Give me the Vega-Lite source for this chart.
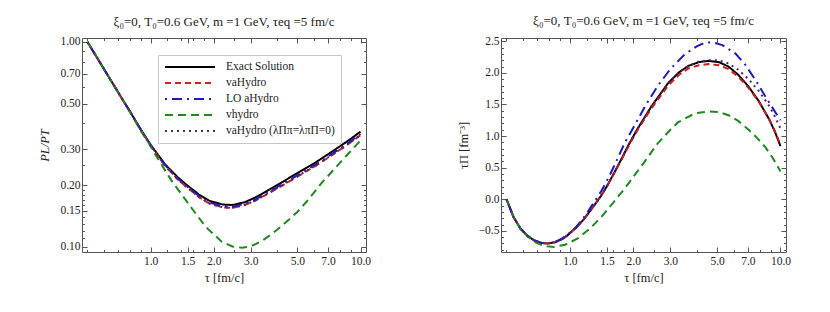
{
  "$schema": "https://vega.github.io/schema/vega-lite/v6.json",
  "padding": {"left": 38, "top": 14, "right": 5, "bottom": 5},
  "spacing": 84,
  "config": {
    "view": {"stroke": "#555", "strokeWidth": 1},
    "axis": {"labelFont": "Liberation Serif", "labelFontSize": 11.5, "labelColor": "#222", "titleFont": "Liberation Serif", "titleFontSize": 12.5, "titleFontWeight": "normal", "titleColor": "#222", "domain": false, "grid": false, "tickColor": "#555", "labelOverlap": false, "labelFlush": false},
    "title": {"font": "Liberation Serif", "fontSize": 13, "fontWeight": "normal", "color": "#222", "offset": 7}
  },
  "datasets": {
    "left": [
      {"m": "Exact Solution", "t": 0.5, "v": 1.0}, {"m": "Exact Solution", "t": 0.55, "v": 0.852}, {"m": "Exact Solution", "t": 0.6, "v": 0.736}, {"m": "Exact Solution", "t": 0.7, "v": 0.568}, {"m": "Exact Solution", "t": 0.8, "v": 0.455}, {"m": "Exact Solution", "t": 0.9, "v": 0.372}, {"m": "Exact Solution", "t": 1.0, "v": 0.315}, {"m": "Exact Solution", "t": 1.17, "v": 0.253}, {"m": "Exact Solution", "t": 1.35, "v": 0.218}, {"m": "Exact Solution", "t": 1.5, "v": 0.199}, {"m": "Exact Solution", "t": 1.7, "v": 0.18}, {"m": "Exact Solution", "t": 1.9, "v": 0.168}, {"m": "Exact Solution", "t": 2.2, "v": 0.161}, {"m": "Exact Solution", "t": 2.45, "v": 0.16}, {"m": "Exact Solution", "t": 2.8, "v": 0.165}, {"m": "Exact Solution", "t": 3.15, "v": 0.174}, {"m": "Exact Solution", "t": 3.6, "v": 0.188}, {"m": "Exact Solution", "t": 4.2, "v": 0.206}, {"m": "Exact Solution", "t": 5.0, "v": 0.229}, {"m": "Exact Solution", "t": 6.1, "v": 0.258}, {"m": "Exact Solution", "t": 7.0, "v": 0.283}, {"m": "Exact Solution", "t": 8.0, "v": 0.31}, {"m": "Exact Solution", "t": 9.0, "v": 0.337}, {"m": "Exact Solution", "t": 10.0, "v": 0.365},
      {"m": "vaHydro", "t": 0.5, "v": 1.0}, {"m": "vaHydro", "t": 0.55, "v": 0.852}, {"m": "vaHydro", "t": 0.6, "v": 0.736}, {"m": "vaHydro", "t": 0.7, "v": 0.568}, {"m": "vaHydro", "t": 0.8, "v": 0.455}, {"m": "vaHydro", "t": 0.9, "v": 0.371}, {"m": "vaHydro", "t": 1.0, "v": 0.312}, {"m": "vaHydro", "t": 1.17, "v": 0.249}, {"m": "vaHydro", "t": 1.35, "v": 0.213}, {"m": "vaHydro", "t": 1.5, "v": 0.194}, {"m": "vaHydro", "t": 1.7, "v": 0.175}, {"m": "vaHydro", "t": 1.9, "v": 0.163}, {"m": "vaHydro", "t": 2.2, "v": 0.156}, {"m": "vaHydro", "t": 2.45, "v": 0.155}, {"m": "vaHydro", "t": 2.8, "v": 0.16}, {"m": "vaHydro", "t": 3.15, "v": 0.168}, {"m": "vaHydro", "t": 3.6, "v": 0.181}, {"m": "vaHydro", "t": 4.2, "v": 0.198}, {"m": "vaHydro", "t": 5.0, "v": 0.22}, {"m": "vaHydro", "t": 6.1, "v": 0.248}, {"m": "vaHydro", "t": 7.0, "v": 0.272}, {"m": "vaHydro", "t": 8.0, "v": 0.298}, {"m": "vaHydro", "t": 9.0, "v": 0.324}, {"m": "vaHydro", "t": 10.0, "v": 0.351},
      {"m": "LO aHydro", "t": 0.5, "v": 1.0}, {"m": "LO aHydro", "t": 0.55, "v": 0.852}, {"m": "LO aHydro", "t": 0.6, "v": 0.736}, {"m": "LO aHydro", "t": 0.7, "v": 0.568}, {"m": "LO aHydro", "t": 0.8, "v": 0.455}, {"m": "LO aHydro", "t": 0.9, "v": 0.372}, {"m": "LO aHydro", "t": 1.0, "v": 0.314}, {"m": "LO aHydro", "t": 1.17, "v": 0.251}, {"m": "LO aHydro", "t": 1.35, "v": 0.215}, {"m": "LO aHydro", "t": 1.5, "v": 0.196}, {"m": "LO aHydro", "t": 1.7, "v": 0.177}, {"m": "LO aHydro", "t": 1.9, "v": 0.165}, {"m": "LO aHydro", "t": 2.2, "v": 0.158}, {"m": "LO aHydro", "t": 2.45, "v": 0.157}, {"m": "LO aHydro", "t": 2.8, "v": 0.162}, {"m": "LO aHydro", "t": 3.15, "v": 0.17}, {"m": "LO aHydro", "t": 3.6, "v": 0.184}, {"m": "LO aHydro", "t": 4.2, "v": 0.201}, {"m": "LO aHydro", "t": 5.0, "v": 0.223}, {"m": "LO aHydro", "t": 6.1, "v": 0.252}, {"m": "LO aHydro", "t": 7.0, "v": 0.276}, {"m": "LO aHydro", "t": 8.0, "v": 0.302}, {"m": "LO aHydro", "t": 9.0, "v": 0.329}, {"m": "LO aHydro", "t": 10.0, "v": 0.356},
      {"m": "vhydro", "t": 0.5, "v": 1.0}, {"m": "vhydro", "t": 0.55, "v": 0.852}, {"m": "vhydro", "t": 0.6, "v": 0.736}, {"m": "vhydro", "t": 0.7, "v": 0.566}, {"m": "vhydro", "t": 0.8, "v": 0.452}, {"m": "vhydro", "t": 0.9, "v": 0.367}, {"m": "vhydro", "t": 0.975, "v": 0.323}, {"m": "vhydro", "t": 1.1, "v": 0.262}, {"m": "vhydro", "t": 1.26, "v": 0.21}, {"m": "vhydro", "t": 1.51, "v": 0.163}, {"m": "vhydro", "t": 1.82, "v": 0.126}, {"m": "vhydro", "t": 2.18, "v": 0.106}, {"m": "vhydro", "t": 2.45, "v": 0.1005}, {"m": "vhydro", "t": 2.72, "v": 0.099}, {"m": "vhydro", "t": 3.0, "v": 0.1005}, {"m": "vhydro", "t": 3.39, "v": 0.107}, {"m": "vhydro", "t": 3.8, "v": 0.116}, {"m": "vhydro", "t": 4.23, "v": 0.127}, {"m": "vhydro", "t": 5.0, "v": 0.148}, {"m": "vhydro", "t": 5.67, "v": 0.171}, {"m": "vhydro", "t": 6.5, "v": 0.204}, {"m": "vhydro", "t": 7.59, "v": 0.243}, {"m": "vhydro", "t": 8.6, "v": 0.28}, {"m": "vhydro", "t": 10.0, "v": 0.33},
      {"m": "vaHydro (λΠπ=λπΠ=0)", "t": 0.5, "v": 1.0}, {"m": "vaHydro (λΠπ=λπΠ=0)", "t": 0.55, "v": 0.852}, {"m": "vaHydro (λΠπ=λπΠ=0)", "t": 0.6, "v": 0.736}, {"m": "vaHydro (λΠπ=λπΠ=0)", "t": 0.7, "v": 0.568}, {"m": "vaHydro (λΠπ=λπΠ=0)", "t": 0.8, "v": 0.455}, {"m": "vaHydro (λΠπ=λπΠ=0)", "t": 0.9, "v": 0.371}, {"m": "vaHydro (λΠπ=λπΠ=0)", "t": 1.0, "v": 0.313}, {"m": "vaHydro (λΠπ=λπΠ=0)", "t": 1.17, "v": 0.249}, {"m": "vaHydro (λΠπ=λπΠ=0)", "t": 1.35, "v": 0.213}, {"m": "vaHydro (λΠπ=λπΠ=0)", "t": 1.5, "v": 0.194}, {"m": "vaHydro (λΠπ=λπΠ=0)", "t": 1.7, "v": 0.175}, {"m": "vaHydro (λΠπ=λπΠ=0)", "t": 1.9, "v": 0.163}, {"m": "vaHydro (λΠπ=λπΠ=0)", "t": 2.2, "v": 0.156}, {"m": "vaHydro (λΠπ=λπΠ=0)", "t": 2.45, "v": 0.155}, {"m": "vaHydro (λΠπ=λπΠ=0)", "t": 2.8, "v": 0.16}, {"m": "vaHydro (λΠπ=λπΠ=0)", "t": 3.15, "v": 0.168}, {"m": "vaHydro (λΠπ=λπΠ=0)", "t": 3.6, "v": 0.182}, {"m": "vaHydro (λΠπ=λπΠ=0)", "t": 4.2, "v": 0.199}, {"m": "vaHydro (λΠπ=λπΠ=0)", "t": 5.0, "v": 0.221}, {"m": "vaHydro (λΠπ=λπΠ=0)", "t": 6.1, "v": 0.249}, {"m": "vaHydro (λΠπ=λπΠ=0)", "t": 7.0, "v": 0.273}, {"m": "vaHydro (λΠπ=λπΠ=0)", "t": 8.0, "v": 0.299}, {"m": "vaHydro (λΠπ=λπΠ=0)", "t": 9.0, "v": 0.325}, {"m": "vaHydro (λΠπ=λπΠ=0)", "t": 10.0, "v": 0.352}
    ],
    "right": [
      {"m": "Exact Solution", "t": 0.5, "v": 0}, {"m": "Exact Solution", "t": 0.54, "v": -0.28}, {"m": "Exact Solution", "t": 0.583, "v": -0.466}, {"m": "Exact Solution", "t": 0.63, "v": -0.58}, {"m": "Exact Solution", "t": 0.675, "v": -0.65}, {"m": "Exact Solution", "t": 0.73, "v": -0.69}, {"m": "Exact Solution", "t": 0.782, "v": -0.7}, {"m": "Exact Solution", "t": 0.85, "v": -0.68}, {"m": "Exact Solution", "t": 0.92, "v": -0.63}, {"m": "Exact Solution", "t": 0.975, "v": -0.57}, {"m": "Exact Solution", "t": 1.07, "v": -0.45}, {"m": "Exact Solution", "t": 1.17, "v": -0.31}, {"m": "Exact Solution", "t": 1.29, "v": -0.12}, {"m": "Exact Solution", "t": 1.41, "v": 0.06}, {"m": "Exact Solution", "t": 1.52, "v": 0.24}, {"m": "Exact Solution", "t": 1.63, "v": 0.43}, {"m": "Exact Solution", "t": 1.76, "v": 0.64}, {"m": "Exact Solution", "t": 1.9, "v": 0.86}, {"m": "Exact Solution", "t": 2.1, "v": 1.12}, {"m": "Exact Solution", "t": 2.44, "v": 1.47}, {"m": "Exact Solution", "t": 2.93, "v": 1.84}, {"m": "Exact Solution", "t": 3.3, "v": 2.01}, {"m": "Exact Solution", "t": 3.65, "v": 2.11}, {"m": "Exact Solution", "t": 4.1, "v": 2.17}, {"m": "Exact Solution", "t": 4.55, "v": 2.19}, {"m": "Exact Solution", "t": 5.1, "v": 2.17}, {"m": "Exact Solution", "t": 5.66, "v": 2.1}, {"m": "Exact Solution", "t": 6.3, "v": 1.97}, {"m": "Exact Solution", "t": 7.06, "v": 1.78}, {"m": "Exact Solution", "t": 7.9, "v": 1.55}, {"m": "Exact Solution", "t": 8.82, "v": 1.27}, {"m": "Exact Solution", "t": 9.4, "v": 1.07}, {"m": "Exact Solution", "t": 10.0, "v": 0.84},
      {"m": "vaHydro", "t": 0.5, "v": 0}, {"m": "vaHydro", "t": 0.54, "v": -0.28}, {"m": "vaHydro", "t": 0.583, "v": -0.466}, {"m": "vaHydro", "t": 0.63, "v": -0.58}, {"m": "vaHydro", "t": 0.675, "v": -0.65}, {"m": "vaHydro", "t": 0.73, "v": -0.69}, {"m": "vaHydro", "t": 0.782, "v": -0.7}, {"m": "vaHydro", "t": 0.85, "v": -0.68}, {"m": "vaHydro", "t": 0.92, "v": -0.63}, {"m": "vaHydro", "t": 0.975, "v": -0.57}, {"m": "vaHydro", "t": 1.07, "v": -0.45}, {"m": "vaHydro", "t": 1.17, "v": -0.31}, {"m": "vaHydro", "t": 1.29, "v": -0.12}, {"m": "vaHydro", "t": 1.41, "v": 0.06}, {"m": "vaHydro", "t": 1.52, "v": 0.24}, {"m": "vaHydro", "t": 1.63, "v": 0.42}, {"m": "vaHydro", "t": 1.76, "v": 0.63}, {"m": "vaHydro", "t": 1.9, "v": 0.84}, {"m": "vaHydro", "t": 2.1, "v": 1.1}, {"m": "vaHydro", "t": 2.44, "v": 1.44}, {"m": "vaHydro", "t": 2.93, "v": 1.8}, {"m": "vaHydro", "t": 3.3, "v": 1.97}, {"m": "vaHydro", "t": 3.65, "v": 2.07}, {"m": "vaHydro", "t": 4.1, "v": 2.12}, {"m": "vaHydro", "t": 4.55, "v": 2.14}, {"m": "vaHydro", "t": 5.1, "v": 2.12}, {"m": "vaHydro", "t": 5.66, "v": 2.06}, {"m": "vaHydro", "t": 6.3, "v": 1.94}, {"m": "vaHydro", "t": 7.06, "v": 1.76}, {"m": "vaHydro", "t": 7.9, "v": 1.54}, {"m": "vaHydro", "t": 8.82, "v": 1.27}, {"m": "vaHydro", "t": 9.4, "v": 1.08}, {"m": "vaHydro", "t": 10.0, "v": 0.86},
      {"m": "LO aHydro", "t": 0.5, "v": 0}, {"m": "LO aHydro", "t": 0.54, "v": -0.28}, {"m": "LO aHydro", "t": 0.583, "v": -0.466}, {"m": "LO aHydro", "t": 0.63, "v": -0.58}, {"m": "LO aHydro", "t": 0.675, "v": -0.65}, {"m": "LO aHydro", "t": 0.73, "v": -0.69}, {"m": "LO aHydro", "t": 0.782, "v": -0.7}, {"m": "LO aHydro", "t": 0.85, "v": -0.68}, {"m": "LO aHydro", "t": 0.92, "v": -0.62}, {"m": "LO aHydro", "t": 0.975, "v": -0.56}, {"m": "LO aHydro", "t": 1.07, "v": -0.44}, {"m": "LO aHydro", "t": 1.17, "v": -0.28}, {"m": "LO aHydro", "t": 1.29, "v": -0.07}, {"m": "LO aHydro", "t": 1.41, "v": 0.13}, {"m": "LO aHydro", "t": 1.52, "v": 0.33}, {"m": "LO aHydro", "t": 1.63, "v": 0.54}, {"m": "LO aHydro", "t": 1.82, "v": 0.89}, {"m": "LO aHydro", "t": 2.03, "v": 1.17}, {"m": "LO aHydro", "t": 2.3, "v": 1.5}, {"m": "LO aHydro", "t": 2.62, "v": 1.8}, {"m": "LO aHydro", "t": 3.0, "v": 2.06}, {"m": "LO aHydro", "t": 3.5, "v": 2.29}, {"m": "LO aHydro", "t": 4.0, "v": 2.42}, {"m": "LO aHydro", "t": 4.39, "v": 2.48}, {"m": "LO aHydro", "t": 4.8, "v": 2.48}, {"m": "LO aHydro", "t": 5.3, "v": 2.44}, {"m": "LO aHydro", "t": 6.1, "v": 2.31}, {"m": "LO aHydro", "t": 6.8, "v": 2.13}, {"m": "LO aHydro", "t": 7.6, "v": 1.89}, {"m": "LO aHydro", "t": 8.5, "v": 1.62}, {"m": "LO aHydro", "t": 9.48, "v": 1.37}, {"m": "LO aHydro", "t": 10.0, "v": 1.25},
      {"m": "vhydro", "t": 0.5, "v": 0}, {"m": "vhydro", "t": 0.54, "v": -0.28}, {"m": "vhydro", "t": 0.583, "v": -0.47}, {"m": "vhydro", "t": 0.63, "v": -0.59}, {"m": "vhydro", "t": 0.675, "v": -0.67}, {"m": "vhydro", "t": 0.73, "v": -0.72}, {"m": "vhydro", "t": 0.78, "v": -0.745}, {"m": "vhydro", "t": 0.84, "v": -0.755}, {"m": "vhydro", "t": 0.95, "v": -0.72}, {"m": "vhydro", "t": 1.09, "v": -0.62}, {"m": "vhydro", "t": 1.25, "v": -0.46}, {"m": "vhydro", "t": 1.41, "v": -0.28}, {"m": "vhydro", "t": 1.6, "v": -0.06}, {"m": "vhydro", "t": 1.82, "v": 0.17}, {"m": "vhydro", "t": 2.05, "v": 0.4}, {"m": "vhydro", "t": 2.26, "v": 0.59}, {"m": "vhydro", "t": 2.62, "v": 0.89}, {"m": "vhydro", "t": 3.0, "v": 1.1}, {"m": "vhydro", "t": 3.27, "v": 1.22}, {"m": "vhydro", "t": 3.93, "v": 1.36}, {"m": "vhydro", "t": 4.55, "v": 1.39}, {"m": "vhydro", "t": 5.1, "v": 1.38}, {"m": "vhydro", "t": 5.66, "v": 1.33}, {"m": "vhydro", "t": 6.3, "v": 1.24}, {"m": "vhydro", "t": 7.06, "v": 1.1}, {"m": "vhydro", "t": 7.8, "v": 0.96}, {"m": "vhydro", "t": 8.49, "v": 0.82}, {"m": "vhydro", "t": 9.2, "v": 0.65}, {"m": "vhydro", "t": 10.0, "v": 0.44},
      {"m": "vaHydro (λΠπ=λπΠ=0)", "t": 0.5, "v": 0}, {"m": "vaHydro (λΠπ=λπΠ=0)", "t": 0.54, "v": -0.28}, {"m": "vaHydro (λΠπ=λπΠ=0)", "t": 0.583, "v": -0.466}, {"m": "vaHydro (λΠπ=λπΠ=0)", "t": 0.63, "v": -0.58}, {"m": "vaHydro (λΠπ=λπΠ=0)", "t": 0.675, "v": -0.65}, {"m": "vaHydro (λΠπ=λπΠ=0)", "t": 0.73, "v": -0.69}, {"m": "vaHydro (λΠπ=λπΠ=0)", "t": 0.782, "v": -0.7}, {"m": "vaHydro (λΠπ=λπΠ=0)", "t": 0.85, "v": -0.68}, {"m": "vaHydro (λΠπ=λπΠ=0)", "t": 0.92, "v": -0.63}, {"m": "vaHydro (λΠπ=λπΠ=0)", "t": 0.975, "v": -0.57}, {"m": "vaHydro (λΠπ=λπΠ=0)", "t": 1.07, "v": -0.45}, {"m": "vaHydro (λΠπ=λπΠ=0)", "t": 1.17, "v": -0.31}, {"m": "vaHydro (λΠπ=λπΠ=0)", "t": 1.29, "v": -0.12}, {"m": "vaHydro (λΠπ=λπΠ=0)", "t": 1.41, "v": 0.06}, {"m": "vaHydro (λΠπ=λπΠ=0)", "t": 1.52, "v": 0.24}, {"m": "vaHydro (λΠπ=λπΠ=0)", "t": 1.63, "v": 0.43}, {"m": "vaHydro (λΠπ=λπΠ=0)", "t": 1.76, "v": 0.64}, {"m": "vaHydro (λΠπ=λπΠ=0)", "t": 1.9, "v": 0.86}, {"m": "vaHydro (λΠπ=λπΠ=0)", "t": 2.1, "v": 1.12}, {"m": "vaHydro (λΠπ=λπΠ=0)", "t": 2.44, "v": 1.47}, {"m": "vaHydro (λΠπ=λπΠ=0)", "t": 2.93, "v": 1.84}, {"m": "vaHydro (λΠπ=λπΠ=0)", "t": 3.3, "v": 2.01}, {"m": "vaHydro (λΠπ=λπΠ=0)", "t": 3.65, "v": 2.11}, {"m": "vaHydro (λΠπ=λπΠ=0)", "t": 4.1, "v": 2.18}, {"m": "vaHydro (λΠπ=λπΠ=0)", "t": 4.55, "v": 2.2}, {"m": "vaHydro (λΠπ=λπΠ=0)", "t": 5.1, "v": 2.2}, {"m": "vaHydro (λΠπ=λπΠ=0)", "t": 5.66, "v": 2.15}, {"m": "vaHydro (λΠπ=λπΠ=0)", "t": 6.3, "v": 2.05}, {"m": "vaHydro (λΠπ=λπΠ=0)", "t": 7.06, "v": 1.9}, {"m": "vaHydro (λΠπ=λπΠ=0)", "t": 7.9, "v": 1.71}, {"m": "vaHydro (λΠπ=λπΠ=0)", "t": 8.82, "v": 1.48}, {"m": "vaHydro (λΠπ=λπΠ=0)", "t": 9.4, "v": 1.31}, {"m": "vaHydro (λΠπ=λπΠ=0)", "t": 10.0, "v": 1.12}
    ]
  },
  "hconcat": [
    {
      "width": 284, "height": 214,
      "title": "ξ₀=0, T₀=0.6 GeV, m =1 GeV, τeq =5 fm/c",
      "data": {"name": "left"},
      "resolve": {"axis": {"x": "independent", "y": "independent"}},
      "layer": [
        {
          "mark": {"type": "line", "strokeWidth": 2},
          "encoding": {
            "x": {"field": "t", "type": "quantitative", "scale": {"type": "log", "domain": [0.471, 10.62], "nice": false}, "axis": {"orient": "bottom", "values": [1, 1.5, 2, 3, 5, 7, 10], "format": ".1f", "title": "τ [fm/c]", "tickSize": -5, "labelPadding": 8, "titlePadding": 5}},
            "y": {"field": "v", "type": "quantitative", "scale": {"type": "log", "domain": [0.0944, 1.045], "nice": false}, "axis": {"orient": "left", "values": [0.1, 0.15, 0.2, 0.3, 0.5, 0.7, 1.0], "format": ".2f", "title": "PL/PT", "titleFontStyle": "italic", "tickSize": -5, "labelPadding": 7, "titlePadding": 8}},
            "color": {"field": "m", "type": "nominal", "sort": null,
              "scale": {"domain": ["Exact Solution", "vaHydro", "LO aHydro", "vhydro", "vaHydro (λΠπ=λπΠ=0)"], "range": ["#000000", "#c8201e", "#1a1ac0", "#1e8a1e", "#5a2268"]},
              "legend": {"orient": "none", "legendX": 76, "legendY": 17, "title": null, "symbolType": "M-5,0H5", "symbolSize": 100, "symbolStrokeWidth": 2, "symbolOffset": 20, "labelOffset": 30, "padding": 6, "rowPadding": 4, "strokeColor": "#c8c8c8", "fillColor": "#ffffff", "labelFont": "Liberation Serif", "labelFontSize": 11.5, "labelColor": "#222", "labelLimit": 200}},
            "strokeDash": {"field": "m", "type": "nominal", "sort": null,
              "scale": {"domain": ["Exact Solution", "vaHydro", "LO aHydro", "vhydro", "vaHydro (λΠπ=λπΠ=0)"], "range": [[1, 0], [6, 4], [2, 5, 10, 5], [8, 5], [2, 4]]}}
          }
        },
        {
          "mark": {"type": "point", "opacity": 0},
          "encoding": {
            "x": {"field": "t", "type": "quantitative", "scale": {"type": "log", "domain": [0.471, 10.62], "nice": false}, "axis": {"orient": "top", "values": [1, 1.5, 2, 3, 5, 7, 10], "labels": false, "title": null, "tickSize": -5}},
            "y": {"field": "v", "type": "quantitative", "scale": {"type": "log", "domain": [0.0944, 1.045], "nice": false}, "axis": {"orient": "right", "values": [0.1, 0.15, 0.2, 0.3, 0.5, 0.7, 1.0], "labels": false, "title": null, "tickSize": -5}}
          }
        },
        {
          "mark": {"type": "point", "opacity": 0},
          "encoding": {
            "x": {"field": "t", "type": "quantitative", "scale": {"type": "log", "domain": [0.471, 10.62], "nice": false}, "axis": {"orient": "bottom", "values": [0.5, 0.6, 0.7, 0.8, 0.9, 1.2, 1.4, 1.6, 1.8, 2.5, 4, 6, 8, 9], "labels": false, "title": null, "tickSize": -2.5}},
            "y": {"field": "v", "type": "quantitative", "scale": {"type": "log", "domain": [0.0944, 1.045], "nice": false}, "axis": {"orient": "left", "values": [0.11, 0.12, 0.13, 0.14, 0.16, 0.17, 0.18, 0.19, 0.25, 0.4, 0.6, 0.8, 0.9], "labels": false, "title": null, "tickSize": -2.5}}
          }
        },
        {
          "mark": {"type": "point", "opacity": 0},
          "encoding": {
            "x": {"field": "t", "type": "quantitative", "scale": {"type": "log", "domain": [0.471, 10.62], "nice": false}, "axis": {"orient": "top", "values": [0.5, 0.6, 0.7, 0.8, 0.9, 1.2, 1.4, 1.6, 1.8, 2.5, 4, 6, 8, 9], "labels": false, "title": null, "tickSize": -2.5}},
            "y": {"field": "v", "type": "quantitative", "scale": {"type": "log", "domain": [0.0944, 1.045], "nice": false}, "axis": {"orient": "right", "values": [0.11, 0.12, 0.13, 0.14, 0.16, 0.17, 0.18, 0.19, 0.25, 0.4, 0.6, 0.8, 0.9], "labels": false, "title": null, "tickSize": -2.5}}
          }
        }
      ]
    },
    {
      "width": 285, "height": 214,
      "title": "ξ₀=0, T₀=0.6 GeV, m =1 GeV, τeq =5 fm/c",
      "data": {"name": "right"},
      "resolve": {"axis": {"x": "independent", "y": "independent"}},
      "layer": [
        {
          "mark": {"type": "line", "strokeWidth": 2},
          "encoding": {
            "x": {"field": "t", "type": "quantitative", "scale": {"type": "log", "domain": [0.471, 10.62], "nice": false}, "axis": {"orient": "bottom", "values": [1, 1.5, 2, 3, 5, 7, 10], "format": ".1f", "title": "τ [fm/c]", "tickSize": -5, "labelPadding": 8, "titlePadding": 5}},
            "y": {"field": "v", "type": "quantitative", "scale": {"domain": [-0.835, 2.552], "nice": false, "zero": false}, "axis": {"orient": "left", "values": [-0.5, 0, 0.5, 1, 1.5, 2, 2.5], "format": ".1f", "title": "τΠ [fm⁻³]", "tickSize": -5, "labelPadding": 7, "titlePadding": 8}},
            "color": {"field": "m", "type": "nominal", "sort": null,
              "scale": {"domain": ["Exact Solution", "vaHydro", "LO aHydro", "vhydro", "vaHydro (λΠπ=λπΠ=0)"], "range": ["#000000", "#c8201e", "#1a1ac0", "#1e8a1e", "#5a2268"]}, "legend": null},
            "strokeDash": {"field": "m", "type": "nominal", "sort": null,
              "scale": {"domain": ["Exact Solution", "vaHydro", "LO aHydro", "vhydro", "vaHydro (λΠπ=λπΠ=0)"], "range": [[1, 0], [6, 4], [2, 5, 10, 5], [8, 5], [2, 4]]}, "legend": null}
          }
        },
        {
          "mark": {"type": "point", "opacity": 0},
          "encoding": {
            "x": {"field": "t", "type": "quantitative", "scale": {"type": "log", "domain": [0.471, 10.62], "nice": false}, "axis": {"orient": "top", "values": [1, 1.5, 2, 3, 5, 7, 10], "labels": false, "title": null, "tickSize": -5}},
            "y": {"field": "v", "type": "quantitative", "scale": {"domain": [-0.835, 2.552], "nice": false, "zero": false}, "axis": {"orient": "right", "values": [-0.5, 0, 0.5, 1, 1.5, 2, 2.5], "labels": false, "title": null, "tickSize": -5}}
          }
        },
        {
          "mark": {"type": "point", "opacity": 0},
          "encoding": {
            "x": {"field": "t", "type": "quantitative", "scale": {"type": "log", "domain": [0.471, 10.62], "nice": false}, "axis": {"orient": "bottom", "values": [0.5, 0.6, 0.7, 0.8, 0.9, 1.2, 1.4, 1.6, 1.8, 2.5, 4, 6, 8, 9], "labels": false, "title": null, "tickSize": -2.5}},
            "y": {"field": "v", "type": "quantitative", "scale": {"domain": [-0.835, 2.552], "nice": false, "zero": false}, "axis": {"orient": "left", "values": [-0.8, -0.7, -0.6, -0.4, -0.3, -0.2, -0.1, 0.1, 0.2, 0.3, 0.4, 0.6, 0.7, 0.8, 0.9, 1.1, 1.2, 1.3, 1.4, 1.6, 1.7, 1.8, 1.9, 2.1, 2.2, 2.3, 2.4], "labels": false, "title": null, "tickSize": -2.5}}
          }
        },
        {
          "mark": {"type": "point", "opacity": 0},
          "encoding": {
            "x": {"field": "t", "type": "quantitative", "scale": {"type": "log", "domain": [0.471, 10.62], "nice": false}, "axis": {"orient": "top", "values": [0.5, 0.6, 0.7, 0.8, 0.9, 1.2, 1.4, 1.6, 1.8, 2.5, 4, 6, 8, 9], "labels": false, "title": null, "tickSize": -2.5}},
            "y": {"field": "v", "type": "quantitative", "scale": {"domain": [-0.835, 2.552], "nice": false, "zero": false}, "axis": {"orient": "right", "values": [-0.8, -0.7, -0.6, -0.4, -0.3, -0.2, -0.1, 0.1, 0.2, 0.3, 0.4, 0.6, 0.7, 0.8, 0.9, 1.1, 1.2, 1.3, 1.4, 1.6, 1.7, 1.8, 1.9, 2.1, 2.2, 2.3, 2.4], "labels": false, "title": null, "tickSize": -2.5}}
          }
        }
      ]
    }
  ]
}
